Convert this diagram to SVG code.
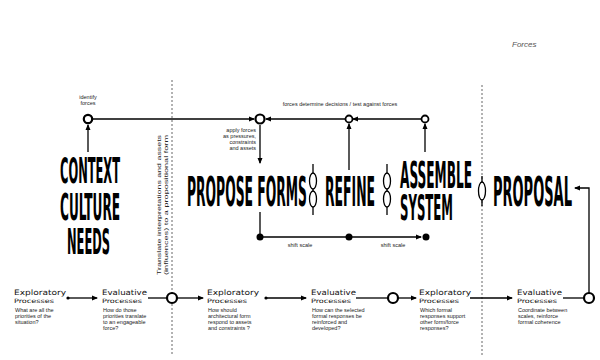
<svg xmlns="http://www.w3.org/2000/svg" width="600" height="360" viewBox="0 0 600 360">
<defs>
<marker id="ah" markerWidth="6" markerHeight="6" refX="5" refY="3" orient="auto" markerUnits="userSpaceOnUse"><path d="M0,0.5 L6,3 L0,5.5 z" fill="#000"/></marker>
<style>
.big{font-family:"DejaVu Sans Condensed","DejaVu Sans",sans-serif;font-weight:bold;fill:#000}
.sm{font-family:"Liberation Sans",Arial,sans-serif;font-size:5.5px;fill:#222}
.hd{font-family:"DejaVu Sans Condensed","DejaVu Sans",sans-serif;font-size:7.5px;fill:#111}
.hd2{font-family:"DejaVu Sans Condensed","DejaVu Sans",sans-serif;font-size:6px;fill:#111}
.ln{stroke:#000;stroke-width:1.3;fill:none}
.dot{stroke:#666;stroke-width:1;stroke-dasharray:2,2;fill:none}
.oc{fill:#fff;stroke:#000;stroke-width:2.2}
.oc2{fill:#fff;stroke:#000;stroke-width:1.8}
.link{fill:#fff;stroke:#000;stroke-width:1.3}
</style>
</defs>
<text x="512" y="47" font-family="Liberation Sans,Arial,sans-serif" font-size="8" font-style="italic" fill="#555">Forces</text>
<g id="dividers">
<line class="dot" x1="172" y1="80" x2="172" y2="356"/>
<line class="dot" x1="482" y1="85" x2="482" y2="356"/>
</g>
<g id="connectors">
<line class="ln" x1="92" y1="119" x2="254" y2="119" marker-end="url(#ah)"/>
<line class="ln" x1="88" y1="152" x2="88" y2="125" marker-end="url(#ah)"/>
<line class="ln" x1="346" y1="119" x2="266" y2="119" marker-end="url(#ah)"/>
<line class="ln" x1="421" y1="119" x2="353" y2="119" marker-end="url(#ah)"/>
<line class="ln" x1="260" y1="125" x2="260" y2="163" marker-end="url(#ah)"/>
<line class="ln" x1="349" y1="170" x2="349" y2="124" marker-end="url(#ah)"/>
<line class="ln" x1="425" y1="152" x2="425" y2="124" marker-end="url(#ah)"/>
<line class="ln" x1="260" y1="212" x2="260" y2="237"/>
<line class="ln" x1="260" y1="237" x2="349" y2="237"/>
<line class="ln" x1="349" y1="237" x2="421" y2="237" marker-end="url(#ah)"/>
<polyline class="ln" points="589,293 589,188 575,188" marker-end="url(#ah)"/>
<line class="ln" x1="68" y1="298" x2="97" y2="298" marker-end="url(#ah)"/>
<line class="ln" x1="148" y1="298" x2="167" y2="298"/>
<line class="ln" x1="177" y1="298" x2="203" y2="298" marker-end="url(#ah)"/>
<line class="ln" x1="266" y1="298" x2="306" y2="298" marker-end="url(#ah)"/>
<line class="ln" x1="356" y1="298" x2="388" y2="298"/>
<line class="ln" x1="398" y1="298" x2="416" y2="298" marker-end="url(#ah)"/>
<line class="ln" x1="470" y1="298" x2="512" y2="298" marker-end="url(#ah)"/>
<line class="ln" x1="563" y1="298" x2="583" y2="298"/>
<circle cx="260" cy="237" r="3.5" fill="#000"/>
<circle cx="349" cy="237" r="3.5" fill="#000"/>
<circle cx="426" cy="237" r="3.5" fill="#000"/>
<circle cx="68" cy="298" r="1.6" fill="#000"/>
<circle cx="266" cy="298" r="1.6" fill="#000"/>
</g>
<g id="identify">
<text class="sm" x="88" y="99" text-anchor="middle">identify</text>
<text class="sm" x="88" y="105" text-anchor="middle">forces</text>
<circle class="oc" cx="88" cy="119" r="4.2"/>
</g>
<g id="forces-circles">
<circle class="oc" cx="260" cy="119" r="4.5"/>
<circle class="oc2" cx="349" cy="119" r="3.5"/>
<circle class="oc2" cx="425" cy="119" r="3.5"/>
<text class="sm" x="340" y="106" text-anchor="middle">forces determine decisions / test against forces</text>
<text class="sm" x="256" y="132" text-anchor="end">apply forces</text>
<text class="sm" x="256" y="138" text-anchor="end">as pressures,</text>
<text class="sm" x="256" y="144" text-anchor="end">constraints</text>
<text class="sm" x="256" y="150" text-anchor="end">and assets</text>
</g>
<g id="context" transform="scale(0.36,1)">
<text class="big" x="166.7" y="183" font-size="35" textLength="166.7" lengthAdjust="spacingAndGlyphs">CONTEXT</text>
<text class="big" x="166.7" y="220" font-size="37" textLength="166.7" lengthAdjust="spacingAndGlyphs">CULTURE</text>
<text class="big" x="186.1" y="254" font-size="35" textLength="119.4" lengthAdjust="spacingAndGlyphs">NEEDS</text>
</g>
<g id="translate">
<text class="sm" transform="translate(161,275) rotate(-90)" textLength="140" lengthAdjust="spacingAndGlyphs">Translate interpretations and assets</text>
<text class="sm" transform="translate(168,275) rotate(-90)" textLength="140" lengthAdjust="spacingAndGlyphs">(influences) to a propositional form</text>
</g>
<g id="propose" transform="scale(0.36,1)">
<text class="big" x="519.4" y="206" font-size="41" textLength="333.3" lengthAdjust="spacingAndGlyphs">PROPOSE FORMS</text>
</g>
<g id="link1">
<line class="ln" x1="313" y1="164" x2="313" y2="215"/>
<ellipse class="link" cx="313" cy="181" rx="3.5" ry="8"/>
<ellipse class="link" cx="313" cy="199" rx="3.5" ry="8"/>
</g>
<g id="refine" transform="scale(0.36,1)">
<text class="big" x="902.8" y="206" font-size="41" textLength="138.9" lengthAdjust="spacingAndGlyphs">REFINE</text>
</g>
<g id="link2">
<line class="ln" x1="387" y1="164" x2="387" y2="215"/>
<ellipse class="link" cx="387" cy="181" rx="3.5" ry="8"/>
<ellipse class="link" cx="387" cy="199" rx="3.5" ry="8"/>
</g>
<g id="assemble" transform="scale(0.36,1)">
<text class="big" x="1111.1" y="188" font-size="38" textLength="200" lengthAdjust="spacingAndGlyphs">ASSEMBLE</text>
<text class="big" x="1111.1" y="220" font-size="36" textLength="147.2" lengthAdjust="spacingAndGlyphs">SYSTEM</text>
</g>
<g id="link3">
<line class="ln" x1="482" y1="176" x2="482" y2="206"/>
<ellipse class="link" cx="482" cy="191" rx="3.5" ry="9"/>
</g>
<g id="proposal" transform="scale(0.36,1)">
<text class="big" x="1369.4" y="206" font-size="41" textLength="219.4" lengthAdjust="spacingAndGlyphs">PROPOSAL</text>
</g>
<g id="end-circle"><circle class="oc" cx="589" cy="298" r="5"/></g>
<g id="circle-a"><circle class="oc" cx="172" cy="298" r="5"/></g>
<g id="circle-b"><circle class="oc" cx="393" cy="298" r="5"/></g>
<g id="p1">
<text class="hd" x="14" y="295" textLength="52" lengthAdjust="spacingAndGlyphs">Exploratory</text>
<text class="hd2" x="14" y="303" textLength="40" lengthAdjust="spacingAndGlyphs">Processes</text>
<text class="sm" x="15" y="312">What are all the</text>
<text class="sm" x="15" y="318">priorities of the</text>
<text class="sm" x="15" y="324">situation?</text>
</g>
<g id="p2">
<text class="hd" x="102" y="295" textLength="45" lengthAdjust="spacingAndGlyphs">Evaluative</text>
<text class="hd2" x="102" y="303" textLength="40" lengthAdjust="spacingAndGlyphs">Processes</text>
<text class="sm" x="103" y="312">How do those</text>
<text class="sm" x="103" y="318">priorities translate</text>
<text class="sm" x="103" y="324">to an engageable</text>
<text class="sm" x="103" y="330">force?</text>
</g>
<g id="p3">
<text class="hd" x="207" y="295" textLength="52" lengthAdjust="spacingAndGlyphs">Exploratory</text>
<text class="hd2" x="207" y="303" textLength="40" lengthAdjust="spacingAndGlyphs">Processes</text>
<text class="sm" x="208" y="312">How should</text>
<text class="sm" x="208" y="318">architectural form</text>
<text class="sm" x="208" y="324">respond to assets</text>
<text class="sm" x="208" y="330">and constraints ?</text>
</g>
<g id="p4">
<text class="hd" x="311" y="295" textLength="45" lengthAdjust="spacingAndGlyphs">Evaluative</text>
<text class="hd2" x="311" y="303" textLength="40" lengthAdjust="spacingAndGlyphs">Processes</text>
<text class="sm" x="312" y="312">How can the selected</text>
<text class="sm" x="312" y="318">formal responses be</text>
<text class="sm" x="312" y="324">reinforced and</text>
<text class="sm" x="312" y="330">developed?</text>
</g>
<g id="p5">
<text class="hd" x="419" y="295" textLength="52" lengthAdjust="spacingAndGlyphs">Exploratory</text>
<text class="hd2" x="419" y="303" textLength="40" lengthAdjust="spacingAndGlyphs">Processes</text>
<text class="sm" x="420" y="312">Which formal</text>
<text class="sm" x="420" y="318">responses support</text>
<text class="sm" x="420" y="324">other form/force</text>
<text class="sm" x="420" y="330">responses?</text>
</g>
<g id="p6">
<text class="hd" x="517" y="295" textLength="45" lengthAdjust="spacingAndGlyphs">Evaluative</text>
<text class="hd2" x="517" y="303" textLength="40" lengthAdjust="spacingAndGlyphs">Processes</text>
<text class="sm" x="518" y="312">Coordinate  between</text>
<text class="sm" x="518" y="318">scales, reinforce</text>
<text class="sm" x="518" y="324">formal coherence</text>
</g>
<g id="shift">
<text class="sm" x="300" y="247" text-anchor="middle">shift scale</text>
<text class="sm" x="393" y="247" text-anchor="middle">shift scale</text>
</g>
</svg>
